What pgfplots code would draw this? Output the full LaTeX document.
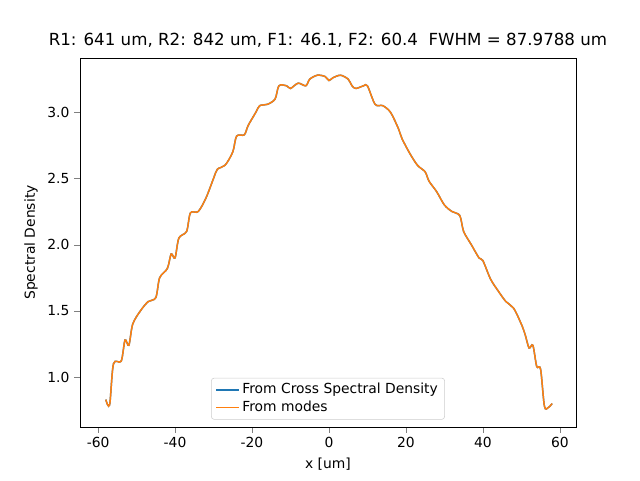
\documentclass[border=0pt]{standalone}
\usepackage{pgfplots}
\pgfplotsset{compat=1.18}
\usepackage{fontspec}
\setmainfont{DejaVu Sans}
\begin{document}
\fontsize{10.4}{12}\selectfont
\begin{tikzpicture}
\useasboundingbox (-60pt,-39.75pt) rectangle (420pt,320.25pt);
\begin{axis}[at={(0,0)},anchor=south west,scale only axis,width=372pt,height=276.75pt,
xmin=-64.7,xmax=64.2,ymin=0.623,ymax=3.41,
xtick={-60,-40,-20,0,20,40,60},ytick={1.0,1.5,2.0,2.5,3.0},
yticklabel style={/pgf/number format/.cd,fixed,fixed zerofill,precision=1},
/pgf/number format/assume math mode=true,
tick align=outside,tick pos=left,
xlabel={x [um]},ylabel={Spectral Density},
title style={font=\fontsize{12.5}{14}\selectfont,yshift=-2pt},
title={R1: 641 um, R2: 842 um, F1: 46.1, F2: 60.4\ \ FWHM = 87.9788 um},
legend style={at={(0.5,0.02)},anchor=south,font=\fontsize{10.4}{12}\selectfont,draw=black!20,rounded corners=2pt},
legend cell align=left,
legend image code/.code={\draw[#1,line width=1.1pt] (0cm,0cm) -- (0.6cm,0cm);},
]
\addplot[color={rgb,255:red,31;green,119;blue,180},line width=1.1pt,smooth] coordinates {
(-58,0.83)(-57,0.79)(-56,1.1)(-54,1.12)(-53,1.28)(-52,1.24)(-51,1.4)(-49,1.5)(-47,1.57)(-45,1.6)(-44,1.75)(-42,1.82)(-41,1.93)(-40,1.9)(-39,2.05)(-37,2.1)(-36,2.24)(-34,2.25)(-32,2.35)(-30,2.5)(-29,2.57)(-27,2.6)(-25,2.7)(-24,2.82)(-22,2.83)(-21,2.9)(-19,3.0)(-18,3.05)(-16,3.06)(-14,3.1)(-13,3.2)(-11,3.2)(-10,3.18)(-8,3.22)(-6,3.2)(-5,3.25)(-3,3.28)(-1,3.27)(0,3.24)(1,3.26)(3,3.28)(5,3.25)(6,3.2)(7,3.18)(9,3.2)(10,3.2)(12,3.06)(14,3.05)(16,3.0)(18,2.88)(19,2.8)(21,2.69)(23,2.6)(25,2.55)(26,2.48)(28,2.4)(30,2.3)(32,2.25)(34,2.22)(35,2.1)(37,2.0)(39,1.9)(40,1.88)(42,1.74)(44,1.65)(46,1.57)(48,1.52)(50,1.4)(51,1.32)(52,1.22)(53,1.24)(54,1.08)(55,1.06)(56,0.78)(57,0.77)(58,0.8)};
\addlegendentry{From Cross Spectral Density}
\addplot[color={rgb,255:red,255;green,127;blue,14},line width=1.1pt,smooth] coordinates {
(-58,0.83)(-57,0.79)(-56,1.1)(-54,1.12)(-53,1.28)(-52,1.24)(-51,1.4)(-49,1.5)(-47,1.57)(-45,1.6)(-44,1.75)(-42,1.82)(-41,1.93)(-40,1.9)(-39,2.05)(-37,2.1)(-36,2.24)(-34,2.25)(-32,2.35)(-30,2.5)(-29,2.57)(-27,2.6)(-25,2.7)(-24,2.82)(-22,2.83)(-21,2.9)(-19,3.0)(-18,3.05)(-16,3.06)(-14,3.1)(-13,3.2)(-11,3.2)(-10,3.18)(-8,3.22)(-6,3.2)(-5,3.25)(-3,3.28)(-1,3.27)(0,3.24)(1,3.26)(3,3.28)(5,3.25)(6,3.2)(7,3.18)(9,3.2)(10,3.2)(12,3.06)(14,3.05)(16,3.0)(18,2.88)(19,2.8)(21,2.69)(23,2.6)(25,2.55)(26,2.48)(28,2.4)(30,2.3)(32,2.25)(34,2.22)(35,2.1)(37,2.0)(39,1.9)(40,1.88)(42,1.74)(44,1.65)(46,1.57)(48,1.52)(50,1.4)(51,1.32)(52,1.22)(53,1.24)(54,1.08)(55,1.06)(56,0.78)(57,0.77)(58,0.8)};
\addlegendentry{From modes}
\node[anchor=south west,inner sep=1pt] at (rel axis cs:0,1) {1e22};
\end{axis}
\end{tikzpicture}
\end{document}
